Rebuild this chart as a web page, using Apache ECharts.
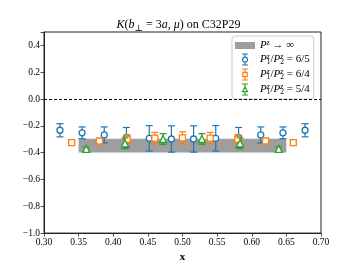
<!DOCTYPE html>
<html>
<head>
<meta charset="utf-8">
<script src="https://cdn.jsdelivr.net/npm/echarts@6/dist/echarts.min.js"></script>
<style>html,body{margin:0;padding:0;background:#fff}#c{width:357px;height:268px}</style>
</head>
<body>
<div id="c"></div>
<script>
// ---- data ----
const blueX = [0.323, 0.355, 0.387, 0.419, 0.452, 0.484, 0.516, 0.548, 0.581, 0.613, 0.645, 0.677];
const blueY = [-0.233, -0.252, -0.268, -0.287, -0.293, -0.298, -0.298, -0.293, -0.287, -0.268, -0.252, -0.233];
const blueErr = [0.049, 0.044, 0.06, 0.075, 0.095, 0.098, 0.098, 0.095, 0.075, 0.06, 0.044, 0.049];

const orangeX = [0.34, 0.38, 0.42, 0.46, 0.50, 0.54, 0.58, 0.62, 0.66];
const orangeY = [-0.325, -0.313, -0.30, -0.292, -0.29, -0.292, -0.30, -0.313, -0.325];
const orangeErr = [0.012, 0.018, 0.033, 0.043, 0.045, 0.043, 0.033, 0.018, 0.012];

const greenX = [0.361, 0.417, 0.472, 0.528, 0.583, 0.639];
const greenY = [-0.372, -0.33, -0.298, -0.298, -0.33, -0.372];
const greenErr = [0.014, 0.04, 0.04, 0.04, 0.04, 0.014];

const bandX = [0.35, 0.65];
const bandY = [-0.398, -0.296];

const xTicks = [0.30, 0.35, 0.40, 0.45, 0.50, 0.55, 0.60, 0.65, 0.70];
const yTicks = [-1.0, -0.8, -0.6, -0.4, -0.2, 0.0, 0.2, 0.4];

// ---- styles ----
const SERIF = '"Liberation Serif", "DejaVu Serif", serif';
const C_BLUE = '#1f77b4', C_ORANGE = '#ff7f0e', C_GREEN = '#2ca02c', C_BAND = '#9e9e9e';

function errRender(color) {
  return function (params, api) {
    const x = api.value(0), y = api.value(1), e = api.value(2);
    const t = api.coord([x, y + e]);
    const b = api.coord([x, y - e]);
    const hw = 3.5;
    const st = { stroke: color, lineWidth: 1.2, fill: null };
    return {
      type: 'group',
      children: [
        { type: 'line', shape: { x1: t[0], y1: t[1], x2: b[0], y2: b[1] }, style: st },
        { type: 'line', shape: { x1: t[0] - hw, y1: t[1], x2: t[0] + hw, y2: t[1] }, style: st },
        { type: 'line', shape: { x1: b[0] - hw, y1: b[1], x2: b[0] + hw, y2: b[1] }, style: st }
      ]
    };
  };
}

function errData(xs, ys, es) { return xs.map((x, i) => [x, ys[i], es[i]]); }
function ptData(xs, ys) { return xs.map((x, i) => [x, ys[i]]); }

const NAMES = { inf: 'inf', r65: 'r65', r64: 'r64', r54: 'r54' };

const iconCircle = 'path://M6,0 V5.5 M6,14.5 V20 M0.5,0 H11.5 M0.5,20 H11.5 M6,5.5 A4.5,4.5 0 1 1 6,14.5 A4.5,4.5 0 1 1 6,5.5 Z';
const iconSquare = 'path://M6,0 V6 M6,14 V20 M0.5,0 H11.5 M0.5,20 H11.5 M2,6 H10 V14 H2 Z';
const iconTri = 'path://M6,0 V5.5 M6,14 V20 M0.5,0 H11.5 M0.5,20 H11.5 M6,5.5 L10.5,14 H1.5 Z';
const iconRect = 'path://M0,0 H20 V7 H0 Z';

const legendText = {
  inf: '{i|P}{sup|z}{n| → ∞}',
  r65: '{i|P}{supw|z}{sub|1}{n|/}{i|P}{supw|z}{sub|2}{n| = 6/5}',
  r64: '{i|P}{supw|z}{sub|1}{n|/}{i|P}{supw|z}{sub|2}{n| = 6/4}',
  r54: '{i|P}{supw|z}{sub|1}{n|/}{i|P}{supw|z}{sub|2}{n| = 5/4}'
};

const chart = echarts.init(document.getElementById('c'), null, { renderer: 'canvas' });
chart.setOption({
  animation: false,
  backgroundColor: '#fff',
  title: {
    text: '{i|K}{n|(}{i|b}{sub|⊥}{n| = 3}{i|a}{n|, }{i|μ}{n|) on C32P29}',
    left: 'center', top: 12,
    textStyle: {
      fontFamily: SERIF, fontSize: 12, fontWeight: 'normal', color: '#000',
      rich: {
        i: { fontFamily: SERIF, fontSize: 12, fontStyle: 'italic', lineHeight: 16, color: '#000' },
        n: { fontFamily: SERIF, fontSize: 12, lineHeight: 16, color: '#000' },
        sub: { fontFamily: SERIF, fontSize: 9, verticalAlign: 'bottom', color: '#000' }
      }
    }
  },
  grid: { left: 44, right: 36, top: 32, bottom: 30, show: true, borderColor: '#222', borderWidth: 1, backgroundColor: 'transparent' },
  legend: {
    orient: 'vertical', left: 232, top: 36,
    padding: [3, 4, 3, 3],
    itemWidth: 20, itemHeight: 11, itemGap: 2,
    backgroundColor: 'rgba(255,255,255,0.8)', borderColor: '#cccccc', borderWidth: 1, borderRadius: 3,
    data: [
      { name: NAMES.inf, icon: iconRect, itemStyle: { color: C_BAND, borderWidth: 0 } },
      { name: NAMES.r65, icon: iconCircle, itemStyle: { color: '#fff', borderColor: C_BLUE, borderWidth: 1.2 } },
      { name: NAMES.r64, icon: iconSquare, itemStyle: { color: '#fff', borderColor: C_ORANGE, borderWidth: 1.2 } },
      { name: NAMES.r54, icon: iconTri, itemStyle: { color: '#fff', borderColor: C_GREEN, borderWidth: 1.2 } }
    ],
    formatter: function (name) { return legendText[name]; },
    textStyle: {
      fontFamily: SERIF, fontSize: 11, color: '#000',
      rich: {
        i: { fontFamily: SERIF, fontSize: 11, fontStyle: 'italic', lineHeight: 13, color: '#000' },
        n: { fontFamily: SERIF, fontSize: 11, lineHeight: 13, color: '#000' },
        sup: { fontFamily: SERIF, fontSize: 7.5, fontStyle: 'italic', verticalAlign: 'top', color: '#000' },
        supw: { fontFamily: SERIF, fontSize: 7.5, fontStyle: 'italic', verticalAlign: 'top', width: 0.01, color: '#000' },
        sub: { fontFamily: SERIF, fontSize: 7.5, verticalAlign: 'bottom', color: '#000' }
      }
    }
  },
  xAxis: {
    type: 'value', min: 0.30, max: 0.70, interval: 0.05,
    name: 'x', nameLocation: 'middle', nameGap: 15,
    nameTextStyle: { fontFamily: SERIF, fontSize: 11, fontWeight: 'bold', color: '#000' },
    axisLine: { show: true, onZero: false, lineStyle: { color: '#222', width: 1 } },
    axisTick: { show: true, length: 3.5, lineStyle: { color: '#222', width: 0.8 } },
    axisLabel: {
      margin: 4, fontFamily: SERIF, fontSize: 9.5, color: '#000',
      formatter: function (v) { return v.toFixed(2); }
    },
    splitLine: { show: false }
  },
  yAxis: {
    type: 'value', min: -1.0, max: 0.5, interval: 0.2,
    axisLine: { show: true, onZero: false, lineStyle: { color: '#222', width: 1 } },
    axisTick: { show: true, length: 3.5, lineStyle: { color: '#222', width: 0.8 } },
    axisLabel: {
      margin: 4, fontFamily: SERIF, fontSize: 9.5, color: '#000',
      formatter: function (v) {
        if (v > 0.45) return '';
        return v.toFixed(1).replace('-', '\u2212');
      }
    },
    splitLine: { show: false }
  },
  series: [
    {
      name: NAMES.inf, type: 'custom', z: 1,
      itemStyle: { color: C_BAND },
      data: [[bandX[0], bandX[1], bandY[0], bandY[1]]],
      renderItem: function (params, api) {
        const p0 = api.coord([api.value(0), api.value(3)]);
        const p1 = api.coord([api.value(1), api.value(2)]);
        return { type: 'rect', shape: { x: p0[0], y: p0[1], width: p1[0] - p0[0], height: p1[1] - p0[1] }, style: { fill: C_BAND } };
      },
      markLine: {
        silent: true, symbol: ['none', 'none'], label: { show: false },
        lineStyle: { color: '#000', type: [3, 2], width: 1 },
        data: [{ yAxis: 0 }]
      }
    },
    { name: NAMES.r65, type: 'custom', z: 2, itemStyle: { color: C_BLUE }, data: errData(blueX, blueY, blueErr), renderItem: errRender(C_BLUE) },
    { name: NAMES.r65, type: 'scatter', z: 3, symbol: 'circle', symbolSize: 6, data: ptData(blueX, blueY),
      itemStyle: { color: '#fff', borderColor: C_BLUE, borderWidth: 1.3, opacity: 1 } },
    { name: NAMES.r64, type: 'custom', z: 4, itemStyle: { color: C_ORANGE }, data: errData(orangeX, orangeY, orangeErr), renderItem: errRender(C_ORANGE) },
    { name: NAMES.r64, type: 'scatter', z: 5, symbol: 'rect', symbolSize: 6, data: ptData(orangeX, orangeY),
      itemStyle: { color: '#fff', borderColor: C_ORANGE, borderWidth: 1.3, opacity: 1 } },
    { name: NAMES.r54, type: 'custom', z: 6, itemStyle: { color: C_GREEN }, data: errData(greenX, greenY, greenErr), renderItem: errRender(C_GREEN) },
    { name: NAMES.r54, type: 'scatter', z: 7, symbol: 'triangle', symbolSize: 7, data: ptData(greenX, greenY),
      itemStyle: { color: '#fff', borderColor: C_GREEN, borderWidth: 1.3, opacity: 1 } }
  ]
});
</script>
</body>
</html>
